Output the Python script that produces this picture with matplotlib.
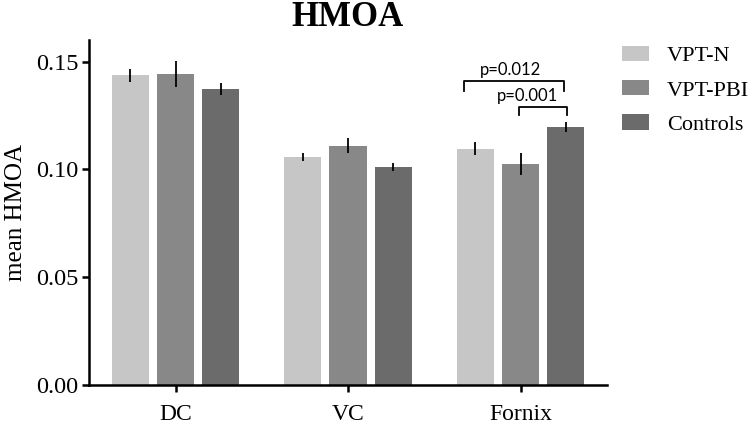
import matplotlib
matplotlib.use("Agg")
import matplotlib.pyplot as plt
import numpy as np
from matplotlib.patches import Patch

regions = ["DC", "VC", "Fornix"]
groups = ["VPT-N", "VPT-PBI", "Controls"]
means = {
    "VPT-N": [0.1436, 0.1057, 0.1096],
    "VPT-PBI": [0.1442, 0.1110, 0.1027],
    "Controls": [0.1373, 0.1011, 0.1196],
}
errors = {
    "VPT-N": [0.0030, 0.0020, 0.0029],
    "VPT-PBI": [0.0060, 0.0036, 0.0051],
    "Controls": [0.0027, 0.0020, 0.0023],
}
colors = {"VPT-N": "#c6c6c6", "VPT-PBI": "#888888", "Controls": "#6b6b6b"}
yticks = [0.00, 0.05, 0.10, 0.15]

serif = ["Liberation Serif", "DejaVu Serif"]
sans = ["Lato", "DejaVu Sans"]

fig = plt.figure(figsize=(7.5, 4.25), dpi=100)
ax = fig.add_axes([0.119, 0.094, 0.690, 0.812])

x = np.arange(len(regions))
width = 0.215
offsets = [-0.262, 0.0, 0.262]
for g, off in zip(groups, offsets):
    ax.bar(x + off, means[g], width, color=colors[g], edgecolor="none", zorder=2)
    ax.errorbar(x + off, means[g], yerr=errors[g], fmt="none",
                ecolor="black", elinewidth=1.3, capsize=0, zorder=3)

ax.set_xlim(-0.5, 2.5)
ax.set_ylim(0, 0.16)
ax.set_yticks(yticks)
ax.set_yticklabels([f"{t:.2f}" for t in yticks], family=serif, fontsize=17.5)
ax.set_xticks(x)
ax.set_xticklabels(regions, family=serif, fontsize=17)
ax.tick_params(axis="both", width=1.8, length=5, direction="out")
ax.tick_params(axis="x", pad=9)
ax.tick_params(axis="y", pad=3)
for side in ["top", "right"]:
    ax.spines[side].set_visible(False)
for side in ["left", "bottom"]:
    ax.spines[side].set_linewidth(1.8)

ax.set_ylabel("mean HMOA", family=serif, fontsize=18, labelpad=6)
fig.text(0.464, 0.939, "HMOA", family=serif, fontsize=25, fontweight="bold",
         ha="center", va="baseline")

# significance brackets
def bracket(x0, x1, y, drop, label, tx, ty):
    ax.plot([x0, x0, x1, x1], [y - drop, y, y, y - drop], color="black",
            lw=1.3, clip_on=False, zorder=4)
    ax.text(tx, ty, label, family=sans, fontsize=12, ha="center", va="bottom")

bracket(1.67, 2.25, 0.1408, 0.0046, "p=0.012", 1.94, 0.1425)
bracket(1.99, 2.27, 0.1287, 0.0034, "p=0.001", 2.04, 0.1302)

handles = [Patch(facecolor=colors[g], edgecolor="none") for g in groups]
fig.legend(handles, groups, loc="upper left", bbox_to_anchor=(0.829, 0.892),
           frameon=False, prop={"family": serif, "size": 16},
           borderpad=0, borderaxespad=0,
           handlelength=1.22, handleheight=0.68, labelspacing=0.62,
           handletextpad=0.8)

fig.savefig("out.png", dpi=100)
